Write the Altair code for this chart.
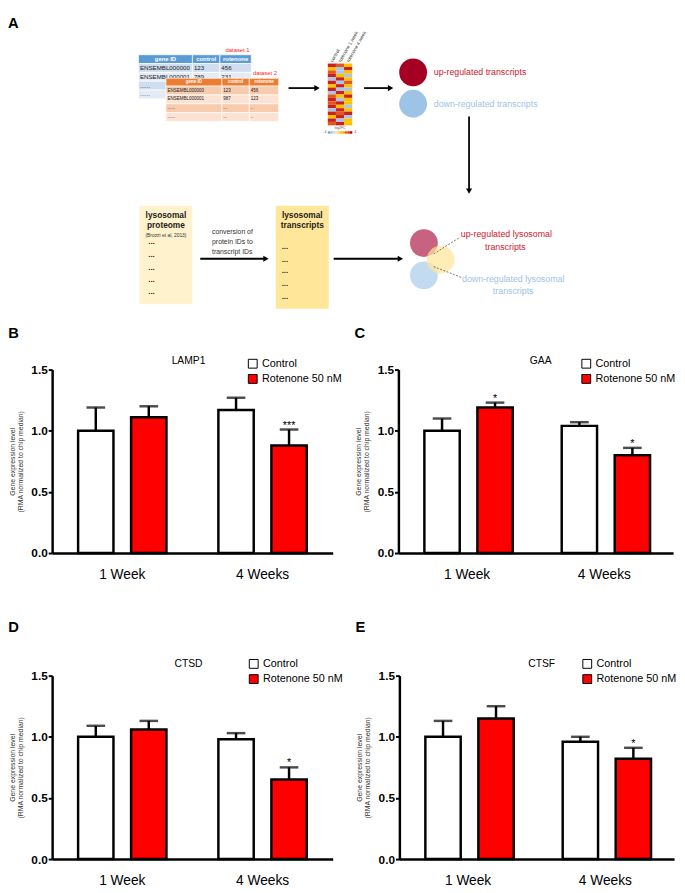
import altair as alt
import pandas as pd

FONT = "Liberation Sans"

# ---------------- Panels B-E: values ----------------
weeks = ["1 Week", "4 Weeks"]
conditions = ["Control", "Rotenone 50 nM"]
genes = ["LAMP1", "GAA", "CTSD", "CTSF"]
panel_letters = ["B", "C", "D", "E"]
control_mean = [[1.00, 1.17], [1.00, 1.04], [1.00, 0.98], [1.00, 0.96]]
control_err = [[0.19, 0.10], [0.10, 0.03], [0.09, 0.05], [0.13, 0.04]]
rotenone_mean = [[1.11, 0.88], [1.19, 0.80], [1.06, 0.65], [1.15, 0.82]]
rotenone_err = [[0.09, 0.13], [0.04, 0.06], [0.07, 0.10], [0.10, 0.09]]
rotenone_sig = [["", "***"], ["*", "*"], ["", "*"], ["", "*"]]
y_ticks = [0.0, 0.5, 1.0, 1.5]
y_title = ["Gene expression level", "(RMA normalized to chip median)"]

# ---------------- Panel A: diagram content ----------------
table_header = ["gene ID", "control", "rotenone"]
dataset1_rows = [["ENSEMBL000000", "123", "456"], ["ENSEMBL000001", "789", "231"],
                 ["......", "", ""], ["......", "", ""]]
dataset2_rows = [["ENSEMBL000000", "123", "456"], ["ENSEMBL000001", "987", "123"],
                 ["......", "...", ".."], ["......", "...", ".."]]
heatmap_columns = ["control", "rotenone 1 week", "rotenone 4 week"]
heatmap_rows = ["ROY", "YBR", "OBY", "RYB", "BRY", "RBO", "YRY", "RBB", "BRY",
                "OYR", "RBY", "ORY", "RYB", "BRY", "ROR", "YRB", "RBY", "ORY"]
heat_colors = {"R": "#C9211E", "O": "#E2571E", "Y": "#FFC000", "B": "#A9C5E8"}
ramp = ["#6FA8DC", "#9DC3E6", "#C9DDF0", "#FFE699", "#FFD34D",
        "#FFC000", "#F4A300", "#E8601C", "#D93A17", "#C00000"]

# ---------------- Panel A layout helpers ----------------
# The bar panels below reach LEFT_EXT px left of their plot origin (y-axis labels and title);
# panel A's origin is aligned with theirs, so its frame starts LEFT_EXT px further right.
LEFT_EXT = 45
XS = alt.Scale(domain=[4 + LEFT_EXT, 681], nice=False, zero=False)
YS = alt.Scale(domain=[4, 304], nice=False, zero=False, reverse=True)


def AX(f):
    return alt.X(f + ":Q", scale=XS, axis=None)


def AY(f):
    return alt.Y(f + ":Q", scale=YS, axis=None)


def text_layer(items, **style):
    df = pd.DataFrame(items, columns=["x", "y", "t"])
    return alt.Chart(df).mark_text(font=FONT, **style).encode(x=AX("x"), y=AY("y"), text="t:N")


def rect_layer(items, **style):
    df = pd.DataFrame(items, columns=["x", "x2", "y", "y2", "c"])
    return alt.Chart(df).mark_rect(**style).encode(
        x=AX("x"), x2="x2:Q", y=AY("y"), y2="y2:Q", fill=alt.Fill("c:N", scale=None))


def table_layers(col_edges, top, row_h, head_h, head_col, row_cols, rows, head_fs, cell_fs):
    cells = []
    y0, y1 = top, top + head_h
    for k in range(3):
        cells.append([col_edges[k], col_edges[k + 1], y0, y1, head_col])
    for r in range(len(rows)):
        ya = top + head_h + r * row_h
        for k in range(3):
            cells.append([col_edges[k], col_edges[k + 1], ya, ya + row_h, row_cols[r % 2]])
    htxt = [[(col_edges[k] + col_edges[k + 1]) / 2, top + head_h / 2, table_header[k]] for k in range(3)]
    ctxt = []
    for r, row in enumerate(rows):
        ya = top + head_h + r * row_h + row_h / 2
        for k in range(3):
            ctxt.append([col_edges[k] + 1.5, ya, row[k]])
    return [
        rect_layer(cells, stroke="white", strokeWidth=0.7),
        text_layer(htxt, fontSize=head_fs, color="white", align="center", baseline="middle", fontWeight="bold"),
        text_layer(ctxt, fontSize=cell_fs, color="#222222", align="left", baseline="middle"),
    ]


layers = []
layers.append(text_layer([[4, 11, "A"]], fontSize=15, fontWeight="bold", align="left", baseline="middle", color="black"))

# dataset tables
layers += table_layers([137, 192, 220, 252], 43, 9, 9, "#5B9BD5", ["#CFDDEE", "#E3EBF6"], dataset1_rows, 6, 6.3)
layers += table_layers([165, 222, 250, 280], 67, 9, 8, "#ED7D31", ["#F8CBAD", "#FCE2D2"], dataset2_rows, 4.6, 4.6)
layers.append(text_layer([[238, 38, "dataset 1"], [266, 62, "dataset 2"]], fontSize=6, color="#FF2020",
                         align="center", baseline="middle"))

# heatmap
hx0, hw, hy0, hh = 330, 8.3, 52, 3.5
cells = []
for r, code in enumerate(heatmap_rows):
    for k, ch in enumerate(code):
        cells.append([hx0 + k * hw, hx0 + (k + 1) * hw, hy0 + r * hh, hy0 + (r + 1) * hh, heat_colors[ch]])
layers.append(rect_layer(cells))
layers.append(text_layer([[hx0 + (k + 0.5) * hw, hy0 - 1.5, heatmap_columns[k]] for k in range(3)],
                         fontSize=4.8, angle=300, align="left", baseline="middle", color="#333333"))
seg = 25 / len(ramp)
layers.append(rect_layer([[hx0 + i * seg, hx0 + (i + 1) * seg, 121, 123.5, c] for i, c in enumerate(ramp)]))
layers.append(text_layer([[342.5, 118, "log2FC"], [327, 122, "-4"], [358, 122, "4"]], fontSize=3.5,
                         align="center", baseline="middle", color="#555555"))

# arrows
arrow_lines = pd.DataFrame([[290, 317, 77, 77], [367, 392, 77, 77], [474, 474, 106, 180],
                            [200, 265, 251, 251], [336, 402, 251, 251]], columns=["x", "x2", "y", "y2"])
layers.append(alt.Chart(arrow_lines).mark_rule(color="black", strokeWidth=1.8).encode(
    x=AX("x"), x2="x2:Q", y=AY("y"), y2="y2:Q"))
heads = pd.DataFrame([[319, 77, "triangle-right"], [394, 77, "triangle-right"], [474, 182, "triangle-down"],
                      [267, 251, "triangle-right"], [404, 251, "triangle-right"]], columns=["x", "y", "s"])
layers.append(alt.Chart(heads).mark_point(filled=True, color="black", size=40, opacity=1).encode(
    x=AX("x"), y=AY("y"), shape=alt.Shape("s:N", scale=None)))

# up / down regulated circles
circ = pd.DataFrame([[417, 61, "#A50021", 1.0], [417, 93, "#9DC3E6", 1.0]], columns=["x", "y", "c", "o"])
layers.append(alt.Chart(circ).mark_circle(size=804).encode(
    x=AX("x"), y=AY("y"), fill=alt.Fill("c:N", scale=None), opacity=alt.Opacity("o:Q", scale=None)))
layers.append(text_layer([[438, 61, "up-regulated transcripts"]], fontSize=9, color="#D0202E",
                         align="left", baseline="middle"))
layers.append(text_layer([[438, 93, "down-regulated transcripts"]], fontSize=9, color="#9DC3E6",
                         align="left", baseline="middle"))

# lysosomal boxes
layers.append(rect_layer([[138, 192, 197, 297, "#FFF2CC"], [277, 331, 197, 302, "#FFE699"]]))
layers.append(text_layer([[165, 206, "lysosomal"], [165, 217, "proteome"],
                          [304, 206, "lysosomal"], [304, 217, "transcripts"]],
                         fontSize=8.5, fontWeight="bold", align="center", baseline="middle", color="#222222"))
layers.append(text_layer([[165, 227, "(Brozzi et al, 2013)"]], fontSize=5, align="center",
                         baseline="middle", color="#333333"))
dots = [[147, y, "..."] for y in [238, 251, 264, 277, 289]] + [[283, y, "..."] for y in [243, 256, 268, 281, 294]]
layers.append(text_layer(dots, fontSize=8, fontWeight="bold", align="left", baseline="bottom", color="#222222"))
layers.append(text_layer([[212, 224, "conversion of"], [212, 234, "protein IDs to"], [212, 244, "transcript IDs"]],
                         fontSize=7, align="left", baseline="middle", color="#333333"))

# venn of lysosomal transcripts
venn = pd.DataFrame([[428, 235, "#C55A7A", 0.95], [428, 268, "#BDD7EE", 0.9], [445, 252, "#FFE699", 0.7]],
                    columns=["x", "y", "c", "o"])
layers.append(alt.Chart(venn).mark_circle(size=804).encode(
    x=AX("x"), y=AY("y"), fill=alt.Fill("c:N", scale=None), opacity=alt.Opacity("o:Q", scale=None)))
dash = pd.DataFrame([[438, 465, 246, 229], [438, 466, 259, 270]], columns=["x", "x2", "y", "y2"])
layers.append(alt.Chart(dash).mark_rule(color="#555555", strokeWidth=0.8, strokeDash=[2, 1.5]).encode(
    x=AX("x"), x2="x2:Q", y=AY("y"), y2="y2:Q"))
layers.append(text_layer([[512, 226, "up-regulated lysosomal"], [511, 239, "transcripts"]], fontSize=9,
                         color="#D0202E", align="center", baseline="middle"))
layers.append(text_layer([[519, 272, "down-regulated lysosomal"], [519, 284, "transcripts"]], fontSize=9,
                         color="#9DC3E6", align="center", baseline="middle"))

panelA = alt.layer(*layers).properties(width=677 - LEFT_EXT, height=300)


# ---------------- bar panels ----------------
def bar_panel(i, width, height, legend_x, legend_y, gene_off, gene_dx, letter_off):
    rows = []
    for j, w in enumerate(weeks):
        rows.append({"week": w, "cond": conditions[0], "mean": control_mean[i][j],
                     "upper": round(control_mean[i][j] + control_err[i][j], 3), "sig": ""})
        rows.append({"week": w, "cond": conditions[1], "mean": rotenone_mean[i][j],
                     "upper": round(rotenone_mean[i][j] + rotenone_err[i][j], 3), "sig": rotenone_sig[i][j]})
    df = pd.DataFrame(rows)
    base = alt.Chart(df)
    x = alt.X("week:N", sort=weeks, scale=alt.Scale(paddingInner=0, paddingOuter=0),
              axis=alt.Axis(title=None, labelAngle=0, labelFont=FONT, labelFontSize=14, labelColor="black",
                            ticks=False, tickSize=0, labelPadding=15, domainColor="black", domainWidth=2.5))
    xo = alt.XOffset("cond:N", sort=conditions, scale=alt.Scale(paddingInner=0.333, paddingOuter=0.49))
    ysc = alt.Scale(domain=[0, 1.5], nice=False)
    y_axis = alt.Axis(title=y_title, titleFont=FONT, titleFontSize=7, titleFontWeight="normal",
                      titleColor="#333333", titlePadding=8, titleLineHeight=8, values=y_ticks, format=".1f",
                      labelFont=FONT, labelFontSize=12, labelFontWeight="bold", labelColor="black",
                      labelPadding=1, tickColor="black", tickWidth=2, tickSize=4, domainColor="black",
                      domainWidth=2.5, grid=False)
    bars = base.mark_bar(stroke="black", strokeWidth=2.5).encode(
        x=x, xOffset=xo, y=alt.Y("mean:Q", scale=ysc, axis=y_axis),
        fill=alt.Fill("cond:N", sort=conditions, scale=alt.Scale(domain=conditions, range=["#FFFFFF", "#FF0000"]),
                      legend=alt.Legend(title=None, orient="none", legendX=legend_x, legendY=legend_y,
                                        symbolType="square", symbolSize=81, symbolStrokeColor="black",
                                        symbolStrokeWidth=1, labelFont=FONT, labelFontSize=11,
                                        labelColor="black", labelOffset=4, rowPadding=2.5, padding=0)))
    err = base.mark_rule(color="black", strokeWidth=2.5).encode(
        x=x, xOffset=xo, y=alt.Y("mean:Q", scale=ysc, axis=y_axis), y2="upper:Q")
    caps = base.mark_tick(color="black", thickness=2.5, size=19).encode(
        x=x, xOffset=xo, y=alt.Y("upper:Q", scale=ysc, axis=y_axis))
    stars = base.mark_text(font=FONT, fontSize=11, baseline="alphabetic", dy=-1, color="black").encode(
        x=x, xOffset=xo, y=alt.Y("upper:Q", scale=ysc, axis=y_axis), text="sig:N")
    layered = alt.layer(bars, err, caps, stars).properties(
        width=width, height=height,
        title=alt.TitleParams(genes[i], font=FONT, fontSize=10.5, fontWeight="normal", color="black",
                              anchor="middle", frame="group", baseline="alphabetic", offset=gene_off, dx=gene_dx))
    return alt.vconcat(layered, title=alt.TitleParams(panel_letters[i], anchor="start", font=FONT, fontSize=15,
                                                      fontWeight="bold", color="black", baseline="bottom",
                                                      offset=letter_off))


pB = bar_panel(0, 286, 187, 199, -11.5, -11, -4, 1)
pC = bar_panel(1, 280, 187, 186, -11.5, -11, 5, 1)
pD = bar_panel(2, 286, 187, 200, -17.5, -7.5, -4, 9.5)
pE = bar_panel(3, 280, 187, 186, -17.5, -7.5, 5, 9.5)

row2 = alt.hconcat(pB, pC, spacing=12).resolve_scale(fill="independent").resolve_legend(fill="independent")
row3 = alt.hconcat(pD, pE, spacing=12).resolve_scale(fill="independent").resolve_legend(fill="independent")
bottom = alt.vconcat(row2, row3, spacing=39).resolve_scale(fill="independent").resolve_legend(fill="independent")

chart = alt.vconcat(panelA, bottom, spacing=15).resolve_scale(
    fill="independent", x="independent", y="independent").resolve_legend(fill="independent").properties(
    padding=0).configure_view(stroke=None)

chart.save("out.html", embed_options={"renderer": "svg", "actions": False})
